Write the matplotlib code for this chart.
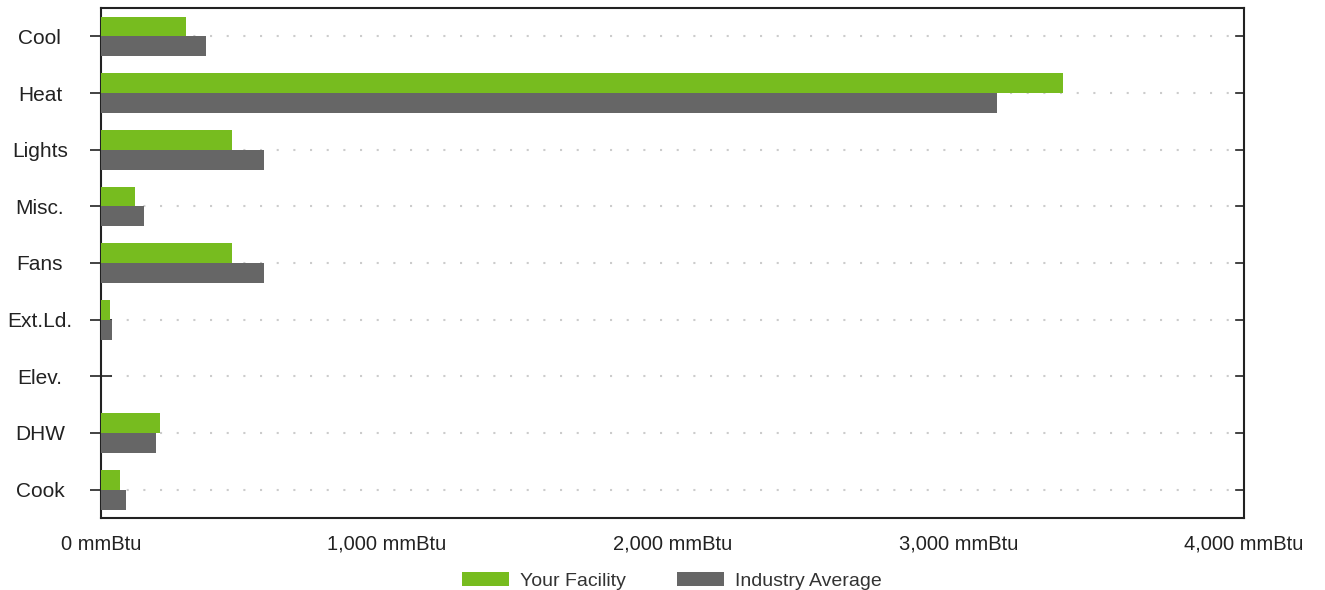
import numpy as np
import matplotlib.pyplot as plt
from matplotlib.ticker import FuncFormatter

plt.rcParams['font.family'] = ['Liberation Sans', 'DejaVu Sans']

categories = ['Cool', 'Heat', 'Lights', 'Misc.', 'Fans', 'Ext.Ld.', 'Elev.', 'DHW', 'Cook']
your_facility = [297, 3367, 458, 120, 458, 30, 0, 205, 65]
industry_average = [367, 3136, 570, 150, 570, 38, 0, 193, 86]

green = '#77bc1f'
gray = '#666666'

fig = plt.figure(figsize=(13.25, 5.9), dpi=100)
ax = fig.add_axes([101 / 1325, 72 / 590, 1143 / 1325, 510 / 590])

y = np.arange(len(categories))
h = 0.35
ax.barh(y - h / 2, your_facility, height=h, color=green, label='Your Facility', zorder=3)
ax.barh(y + h / 2, industry_average, height=h, color=gray, label='Industry Average', zorder=3)

# dotted guide lines at each category
for yy in y:
    ax.plot([30, 4000], [yy, yy], color='#cccccc', linestyle=(0, (1, 7)), linewidth=1.5, zorder=1)

ax.set_xlim(0, 4000)
ax.set_ylim(len(categories) - 0.5, -0.5)
ax.set_xticks([0, 1000, 2000, 3000, 4000])
ax.xaxis.set_major_formatter(FuncFormatter(lambda v, p: f'{int(v):,} mmBtu'))
ax.set_yticks(y)
ax.set_yticklabels(categories, ha='center')
ax.tick_params(axis='x', length=0, pad=12, labelsize=14.5, colors='#222222')
ax.tick_params(axis='y', direction='inout', length=16, width=1.2, pad=36, labelsize=15,
               colors='#222222')
# right-side ticks point inward only
for yy in y:
    ax.plot([3972, 4000], [yy, yy], color='#222222', linewidth=1.2, zorder=4, clip_on=False)
for s in ax.spines.values():
    s.set_linewidth(1.5)
    s.set_color('#222222')

handles, labels = ax.get_legend_handles_labels()
fig.legend(handles, labels, loc='center', bbox_to_anchor=(672 / 1325, 9 / 590), ncol=2,
           frameon=False, handlelength=2.4, handleheight=0.7, handletextpad=0.6,
           columnspacing=2.6, fontsize=14, labelcolor='#333333', borderpad=0)

fig.savefig('out.png', dpi=100)
